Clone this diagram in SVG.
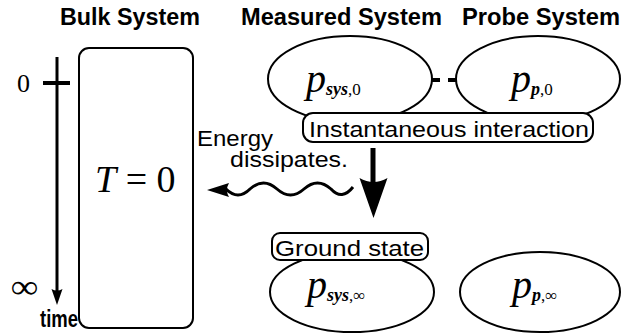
<svg xmlns="http://www.w3.org/2000/svg" width="622" height="336" viewBox="0 0 622 336">
<style>
.title{font-family:"Liberation Sans",Arial,sans-serif;font-weight:bold;font-size:23px;fill:#000}
.lbl{font-family:"Liberation Sans",Arial,sans-serif;font-size:22px;fill:#000}
.ser{font-family:"Liberation Serif","Times New Roman",serif;fill:#000}
.p{font-family:"Liberation Serif","Times New Roman",serif;font-style:italic;font-size:40px;fill:#000}
.sub{font-size:18px;font-weight:bold;font-style:italic}
.sub0{font-size:17px;font-style:normal;font-weight:normal}
.shape{fill:#fff;stroke:#000;stroke-width:2}
.line{fill:none;stroke:#000}
</style>

<g id="titles">
<text class="title" x="60" y="25" textLength="140" lengthAdjust="spacingAndGlyphs">Bulk System</text>
<text class="title" x="241" y="25" textLength="201" lengthAdjust="spacingAndGlyphs">Measured System</text>
<text class="title" x="462" y="25" textLength="158" lengthAdjust="spacingAndGlyphs">Probe System</text>
</g>

<g id="timeline">
<line class="line" x1="57" y1="57" x2="57" y2="292" stroke-width="3"/>
<path d="M57 305 L51.5 289 Q57 292 62.5 289 Z" fill="#000"/>
<line class="line" x1="43" y1="83" x2="70" y2="83" stroke-width="4"/>
<text class="ser" x="17" y="92" font-size="26">0</text>
<text class="ser" x="11" y="298" font-size="34" font-weight="bold" textLength="27" lengthAdjust="spacingAndGlyphs">∞</text>
<text class="title" x="40" y="327" font-size="17" textLength="38" lengthAdjust="spacingAndGlyphs">time</text>
</g>

<g id="bulk">
<rect class="shape" x="79" y="48" width="114" height="280" rx="10"/>
<text class="ser" x="95" y="192" font-size="38"><tspan font-style="italic">T</tspan> = 0</text>
</g>

<g id="sys0">
<ellipse class="shape" cx="350" cy="79" rx="82" ry="43"/>
<text class="p" x="306" y="92">p<tspan class="sub" dy="3">sys</tspan><tspan class="sub0">,0</tspan></text>
</g>

<g id="p0">
<ellipse class="shape" cx="538" cy="79" rx="82" ry="43"/>
<text class="p" x="511" y="92">p<tspan class="sub" dy="3">p</tspan><tspan class="sub0">,0</tspan></text>
</g>

<g id="connectors">
<line class="line" x1="432" y1="80" x2="457" y2="80" stroke-width="4" stroke-dasharray="8 8"/>
<line class="line" x1="373" y1="148" x2="373" y2="186" stroke-width="5"/>
<path d="M373.5 218 L359.5 178 Q373.5 186 387.5 178 Z" fill="#000"/>
<path class="line" stroke-width="3" d="M226 189 Q238 201 250 189 Q263.5 177 277 189 Q290.5 201 304 189 Q317.5 177 331 189 Q342 201 353 187"/>
<path d="M207 190 L229 183 Q225 190 229 197 Z" fill="#000"/>
</g>

<g id="interaction">
<rect class="shape" x="303" y="113" width="290" height="29" rx="10"/>
<text class="lbl" x="309" y="137" textLength="280" lengthAdjust="spacingAndGlyphs">Instantaneous interaction</text>
</g>

<g id="energy">
<text class="lbl" x="197" y="146" font-size="19" textLength="76" lengthAdjust="spacingAndGlyphs">Energy</text>
<text class="lbl" x="230" y="167" font-size="19" textLength="118" lengthAdjust="spacingAndGlyphs">dissipates.</text>
</g>

<g id="sysinf">
<ellipse class="shape" cx="352" cy="292" rx="82" ry="40"/>
<text class="p" x="307" y="298">p<tspan class="sub" dy="3">sys</tspan><tspan class="sub0">,∞</tspan></text>
</g>

<g id="ground">
<rect class="shape" x="272" y="233" width="156" height="27" rx="8"/>
<text class="lbl" x="275" y="256" textLength="149" lengthAdjust="spacingAndGlyphs">Ground state</text>
</g>

<g id="pinf">
<ellipse class="shape" cx="540" cy="292" rx="80" ry="40"/>
<text class="p" x="512" y="298">p<tspan class="sub" dy="3">p</tspan><tspan class="sub0">,∞</tspan></text>
</g>
</svg>
